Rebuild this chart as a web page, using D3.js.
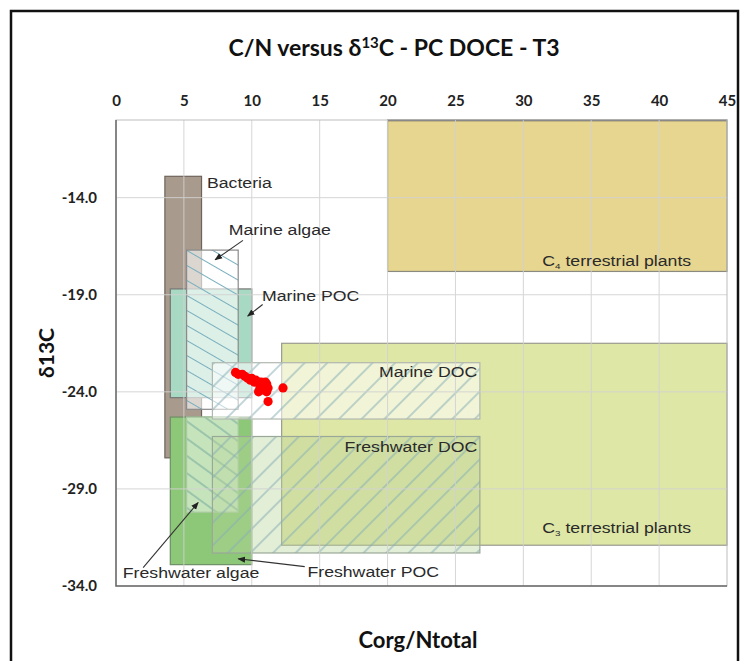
<!DOCTYPE html>
<html><head><meta charset="utf-8">
<script src="https://cdn.jsdelivr.net/npm/d3@7"></script>
<style>
html,body{margin:0;padding:0;background:#fff;}
svg{display:block;}
</style></head>
<body><svg id="chart" width="749" height="661"></svg>
<script>
// ---------- DATA ----------
const xTicks = [0,5,10,15,20,25,30,35,40,45];
const yTicks = [-14,-19,-24,-29,-34];
const regionNames  = ["C4 terrestrial plants","C3 terrestrial plants","Bacteria","Marine POC","Freshwater POC","Marine algae","Freshwater algae","Marine DOC","Freshwater DOC"];
const regionCNmin  = [20, 12.2, 3.6, 4.0, 4.0, 5.2, 5.2, 7.1, 7.1];
const regionCNmax  = [45, 45,   6.3, 10.0,10.0, 9.0, 9.0, 26.8,26.8];
const regionD13Cmin= [-17.8,-31.9,-27.4,-24.3,-32.9,-24.9,-30.2,-25.4,-32.3];
const regionD13Cmax= [-10,  -21.5,-12.9,-18.7,-25.3,-16.7,-25.3,-22.5,-26.3];
const sampleCN   = [8.8, 9.0, 9.3, 9.5, 9.7, 10.0, 10.2, 10.5, 10.7, 11.0, 11.1, 11.2, 10.6, 10.8, 10.5, 11.1, 12.3, 11.2, 9.9, 10.3];
const sampleD13C = [-23.0,-23.1,-23.1,-23.2,-23.3,-23.3,-23.5,-23.5,-23.5,-23.5,-23.6,-23.8,-23.8,-23.9,-24.0,-24.0,-23.8,-24.5,-23.4,-23.4];

// ---------- STYLES ----------
const regionStyle = {
 "C4 terrestrial plants":{fill:"#e7d690",op:1,stroke:"#8a8a80",hatch:null},
 "C3 terrestrial plants":{fill:"#dfe7a6",op:1,stroke:"#9a9a90",hatch:null},
 "Bacteria":{fill:"#a89a8d",op:1,stroke:"#6e645c",hatch:null},
 "Marine POC":{fill:"#a8d9c3",op:1,stroke:"#777",hatch:null},
 "Freshwater POC":{fill:"#8dc878",op:1,stroke:"#6f8f66",hatch:null},
 "Marine algae":{fill:"#ffffff",op:0.6,stroke:"#8a8a8a",hatch:"hAlgM"},
 "Freshwater algae":{fill:"#ffffff",op:0.5,stroke:"#a8c8a0",hatch:"hAlgF"},
 "Marine DOC":{fill:"#ffffff",op:0.55,stroke:"#b0b8b0",hatch:"hDOC"},
 "Freshwater DOC":{fill:"#b8d49a",op:0.4,stroke:"#9aa89a",hatch:"hDOC"}
};

const svg = d3.select("#chart");
const x = d3.scaleLinear().domain([0,45]).range([116,727]);
const y = d3.scaleLinear().domain([-34,-10]).range([586,120]);

// outer frame
svg.append("rect").attr("x",11).attr("y",11).attr("width",727).attr("height",665)
  .attr("fill","#fff").attr("stroke","#111").attr("stroke-width",2.5);

// patterns
const defs = svg.append("defs");
function hatch(id, angle, gap, color){
  const p = defs.append("pattern").attr("id",id).attr("patternUnits","userSpaceOnUse")
    .attr("width",100).attr("height",gap).attr("patternTransform",`rotate(${angle})`);
  p.append("line").attr("x1",0).attr("x2",100).attr("y1",gap/2).attr("y2",gap/2)
    .attr("stroke",color).attr("stroke-width",1.1);
}
hatch("hAlgM", 30, 13, "#78aebd");
hatch("hAlgF", 36, 14, "#6fa59a");
hatch("hDOC", -45, 16, "#86aeb6");
defs.append("marker").attr("id","arr").attr("viewBox","0 0 10 10").attr("refX",9).attr("refY",5)
  .attr("markerWidth",7).attr("markerHeight",7).attr("orient","auto")
  .append("path").attr("d","M0,1 L10,5 L0,9 Z").attr("fill","#222");

// plot background
svg.append("rect").attr("x",x(0)).attr("y",y(-10)).attr("width",x(45)-x(0)).attr("height",y(-34)-y(-10))
  .attr("fill","#fff");

// regions
const regions = regionNames.map((n,i)=>({name:n,x0:regionCNmin[i],x1:regionCNmax[i],y0:regionD13Cmin[i],y1:regionD13Cmax[i]}));
const g = svg.append("g");
regions.forEach(r=>{
  const s = regionStyle[r.name];
  const rx = x(r.x0), ry = y(r.y1), w = x(r.x1)-x(r.x0), h = y(r.y0)-y(r.y1);
  g.append("rect").attr("x",rx).attr("y",ry).attr("width",w).attr("height",h)
    .attr("fill",s.fill).attr("fill-opacity",s.op);
  if(s.hatch) g.append("rect").attr("x",rx).attr("y",ry).attr("width",w).attr("height",h)
    .attr("fill",`url(#${s.hatch})`);
  g.append("rect").attr("x",rx).attr("y",ry).attr("width",w).attr("height",h)
    .attr("fill","none").attr("stroke",s.stroke).attr("stroke-width",1.2);
});
// darker top edge on C4
svg.append("line").attr("x1",x(20)).attr("x2",x(45)).attr("y1",y(-10)+0.5).attr("y2",y(-10)+0.5)
  .attr("stroke","#555").attr("stroke-width",1.5);

// gridlines
const grid = svg.append("g").attr("stroke","#d2d2d2").attr("stroke-width",1).attr("opacity",0.9);
xTicks.slice(1,-1).forEach(v=>grid.append("line").attr("x1",x(v)).attr("x2",x(v)).attr("y1",y(-10)).attr("y2",y(-34)));
yTicks.slice(0,-1).forEach(v=>grid.append("line").attr("x1",x(0)).attr("x2",x(45)).attr("y1",y(v)).attr("y2",y(v)));

// plot frame
svg.append("rect").attr("x",x(0)).attr("y",y(-10)).attr("width",x(45)-x(0)).attr("height",y(-34)-y(-10))
  .attr("fill","none").attr("stroke","#bdbdbd").attr("stroke-width",1);
svg.append("path").attr("d",`M${x(0)},${y(-10)} V${y(-34)} H${x(45)}`)
  .attr("fill","none").attr("stroke","#6a6a6a").attr("stroke-width",1.5);

// axes
const fontB = "Lato, 'Open Sans', sans-serif";
const fmtY = v => d3.format(".1f")(v).replace("\u2212","-");
const xAxis = svg.append("g").attr("transform",`translate(0,${y(-10)})`)
  .call(d3.axisTop(x).tickValues(xTicks).tickSize(0).tickPadding(14).tickFormat(d3.format("d")));
const yAxis = svg.append("g").attr("transform",`translate(${x(0)},0)`)
  .call(d3.axisLeft(y).tickValues(yTicks).tickSize(0).tickPadding(19).tickFormat(fmtY));
[xAxis,yAxis].forEach(a=>{
  a.select(".domain").remove();
  a.selectAll("text").attr("font-family",fontB).attr("font-weight","bold").attr("font-size",15).attr("fill","#222");
});

// titles
svg.append("text").attr("x",394).attr("y",56).attr("text-anchor","middle")
  .attr("font-family",fontB).attr("font-weight","bold").attr("font-size",23).attr("fill","#111")
  .html('C/N versus δ<tspan dy="-8" font-size="15">13</tspan><tspan dy="8">C - PC DOCE - T3</tspan>');
svg.append("text").attr("transform",`translate(54,${(y(-10)+y(-34))/2}) rotate(-90)`).attr("text-anchor","middle")
  .attr("font-family",fontB).attr("font-weight","bold").attr("font-size",21).attr("fill","#111").text("δ13C");
svg.append("text").attr("x",418).attr("y",648).attr("text-anchor","middle")
  .attr("font-family",fontB).attr("font-weight","bold").attr("font-size",22).attr("fill","#111").text("Corg/Ntotal");

// region labels
const labelNames = ["Bacteria","Marine algae","Marine POC","Marine DOC","Freshwater DOC","Freshwater POC","Freshwater algae","C4 terrestrial plants","C3 terrestrial plants"];
const labelCN    = [6.7, 8.3, 10.75, 26.6, 26.6, 14.1, 0.5, 31.4, 31.4];
const labelD13C  = [-13.5,-15.9,-19.3,-23.25,-27.1,-33.55,-33.6,-17.5,-31.25];
const labelAnchor= ["start","start","start","end","end","start","start","start","start"];
const lf = "'Liberation Sans', Arial, sans-serif";
labelNames.forEach((t,i)=>{
  const el = svg.append("text")
    .attr("transform",`translate(${x(labelCN[i])},${y(labelD13C[i])}) scale(1.22,1)`)
    .attr("text-anchor",labelAnchor[i]).attr("font-family",lf).attr("font-size",14.5).attr("fill","#2a2a2a");
  if(t.startsWith("C4")||t.startsWith("C3")){
    el.html(`C<tspan font-size="8" dy="3">${t[1]}</tspan><tspan dy="-3">${t.slice(2)}</tspan>`);
  } else el.text(t);
});

// arrows
const arrFromCN = [9.35,10.8,2.0,13.9];
const arrFromD  = [-16.2,-19.5,-33.05,-33.0];
const arrToCN   = [7.3,9.7,6.05,9.0];
const arrToD    = [-17.2,-20.1,-29.7,-32.6];
arrFromCN.forEach((v,i)=>{
  svg.append("line").attr("x1",x(v)).attr("y1",y(arrFromD[i])).attr("x2",x(arrToCN[i])).attr("y2",y(arrToD[i]))
    .attr("stroke","#333").attr("stroke-width",1.1).attr("marker-end","url(#arr)");
});

// samples
svg.append("g").selectAll("circle").data(sampleCN.map((v,i)=>[v,sampleD13C[i]])).join("circle")
  .attr("cx",d=>x(d[0])).attr("cy",d=>y(d[1])).attr("r",4.6).attr("fill","#ff0000");
</script></body></html>
